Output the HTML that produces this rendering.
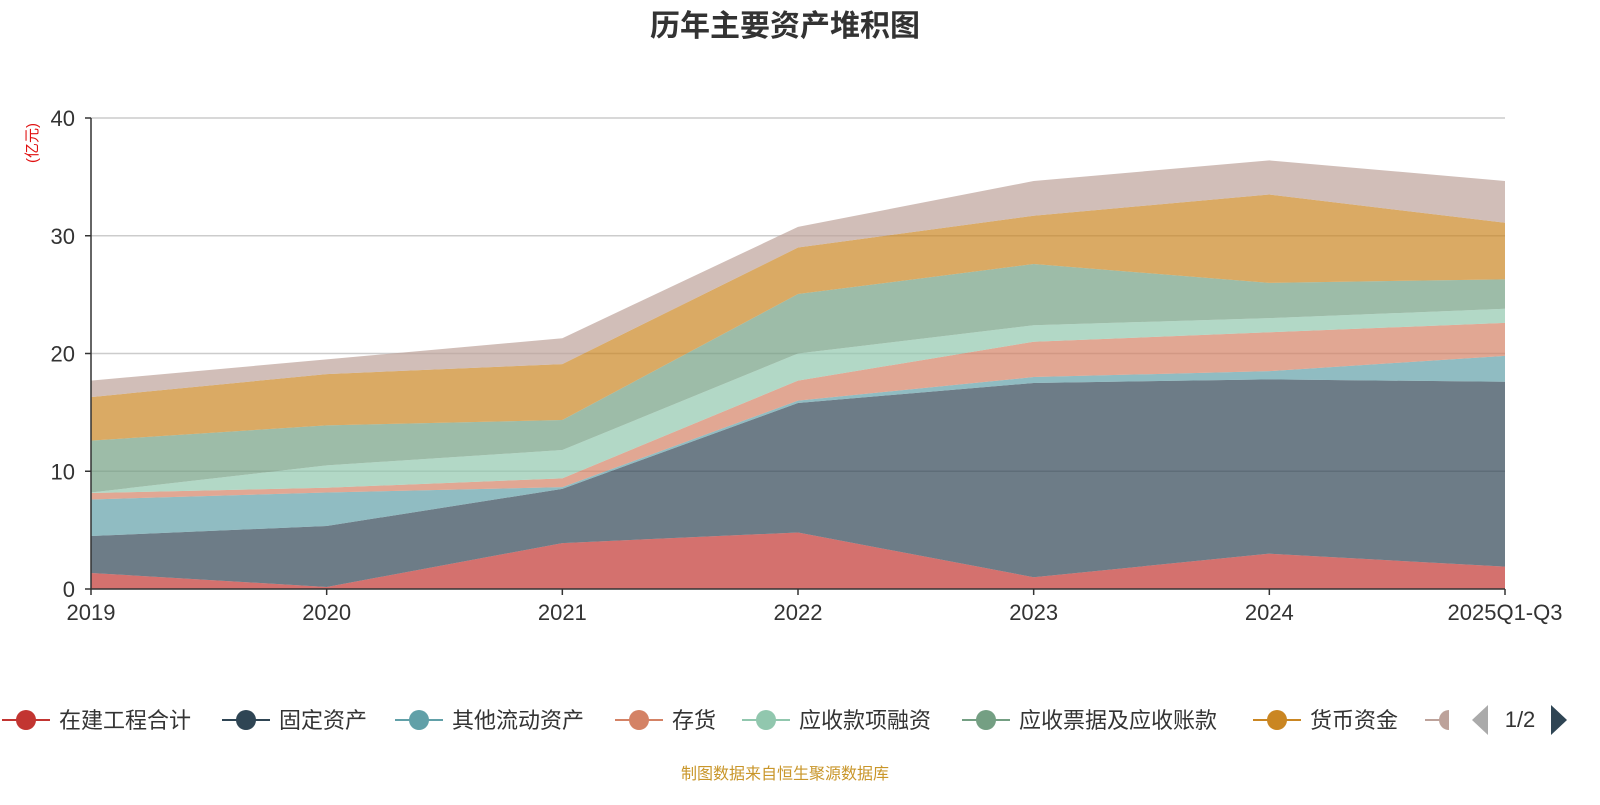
<!DOCTYPE html>
<html><head><meta charset="utf-8">
<style>
body{margin:0;background:#fff;width:1600px;height:800px;overflow:hidden;font-family:"Liberation Sans","Noto Sans CJK SC",sans-serif;}
</style></head>
<body>
<svg id="chart" width="1600" height="800" xmlns="http://www.w3.org/2000/svg" style="font-family:'Liberation Sans','Noto Sans CJK SC',sans-serif">
<text x="785" y="36" text-anchor="middle" font-size="30" font-weight="bold" fill="#333">历年主要资产堆积图</text>
<text transform="translate(37,143) rotate(-90)" text-anchor="middle" font-size="15" fill="#e01010">(亿元)</text>
<g id="grid"></g>
<g id="areas"></g>
<g id="axes"></g>
<g id="legend"></g>
<text x="1520" y="727" text-anchor="middle" font-size="22" fill="#333">1/2</text>
<polygon points="1488,705 1488,735 1472,720" fill="#aaa"/>
<polygon points="1551,705 1551,735 1567,720" fill="#2f4554"/>
<text x="785" y="779" text-anchor="middle" font-size="16" fill="#c9962a">制图数据来自恒生聚源数据库</text>
</svg>
<script>
const categories=["2019","2020","2021","2022","2023","2024","2025Q1-Q3"];
const seriesNames=["在建工程合计","固定资产","其他流动资产","存货","应收款项融资","应收票据及应收账款","货币资金","其他"];
const s0=[1.36,0.17,3.9,4.8,1.0,3.0,1.9];
const s1=[3.14,5.18,4.6,11.0,16.5,14.8,15.7];
const s2=[3.1,2.85,0.15,0.2,0.5,0.7,2.2];
const s3=[0.55,0.4,0.75,1.7,3.0,3.3,2.8];
const s4=[0.05,1.9,2.4,2.3,1.4,1.2,1.2];
const s5=[4.4,3.4,2.55,5.05,5.2,3.0,2.5];
const s6=[3.7,4.35,4.75,3.95,4.1,7.5,4.8];
const s7=[1.4,1.25,2.2,1.75,2.95,2.9,3.55];
const yTicks=[0,10,20,30,40];
const series=[s0,s1,s2,s3,s4,s5,s6,s7];
const colors=["#c23531","#2f4554","#61a0a8","#d48265","#91c7ae","#749f83","#ca8622","#bda29a"];
const NS="http://www.w3.org/2000/svg";
const x0=91,x1=1505,yb=589,yt=118,ymax=40;
const xs=i=>x0+(x1-x0)*i/(categories.length-1);
const ys=v=>yb-(yb-yt)*v/ymax;
function mk(tag,attrs,parent){const e=document.createElementNS(NS,tag);for(const k in attrs)e.setAttribute(k,attrs[k]);parent.appendChild(e);return e;}
const grid=document.getElementById('grid'),areas=document.getElementById('areas'),axes=document.getElementById('axes'),legend=document.getElementById('legend');
yTicks.forEach(t=>{
 if(t>0){const l=mk('line',{x1:x0,x2:x1,y1:ys(t),y2:ys(t),stroke:'#ccc','stroke-width':1.5},grid);
 
 }
 const tk=mk('line',{x1:x0-6,x2:x0,y1:ys(t),y2:ys(t),stroke:'#333','stroke-width':1.5},axes);
 
 
 const tx=mk('text',{x:x0-16,y:ys(t)+8,'text-anchor':'end','font-size':22,fill:'#333'},axes);
 tx.textContent=t;
 
 
});
let base=categories.map(()=>0);
series.forEach((s,k)=>{
 const top=base.map((b,i)=>b+s[i]);
 let d='M'+top.map((v,i)=>xs(i)+','+ys(v)).join(' L');
 for(let i=categories.length-1;i>=0;i--)d+=' L'+xs(i)+','+ys(base[i]);
 d+=' Z';
 const p=mk('path',{d:d,fill:colors[k],'fill-opacity':0.7,stroke:'none'},areas);
 
 
 base=top;
});
const ax=mk('line',{x1:x0,x2:x1,y1:yb,y2:yb,stroke:'#333','stroke-width':1.5},axes);


const ay=mk('line',{x1:x0,x2:x0,y1:yt,y2:yb,stroke:'#333','stroke-width':1.5},axes);


categories.forEach((c,i)=>{
 const tk=mk('line',{x1:xs(i),x2:xs(i),y1:yb,y2:yb+6,stroke:'#333','stroke-width':1.5},axes);
 
 
 const t=mk('text',{x:xs(i),y:620,'text-anchor':'middle','font-size':22,fill:'#333'},axes);
 t.textContent=c;
 
 
});
const legX=[2,222,395,615,742,962,1253,1425];
seriesNames.forEach((n,k)=>{
 const g=mk('g',{},legend);
 
 
 const x=legX[k];
 if(k<7){
  mk('line',{x1:x,x2:x+48,y1:720,y2:720,stroke:colors[k],'stroke-width':2},g);
  mk('circle',{cx:x+24,cy:720,r:10,fill:colors[k]},g);
  const t=mk('text',{x:x+57,y:728,'font-size':22,fill:'#333'},g);
  t.textContent=n;
 } else {
  mk('line',{x1:x,x2:x+24,y1:720,y2:720,stroke:colors[k],'stroke-width':2},g);
  mk('path',{d:`M${x+24},710 A10,10 0 0 0 ${x+24},730 Z`,fill:colors[k]},g);
 }
});
</script>
</body></html>
